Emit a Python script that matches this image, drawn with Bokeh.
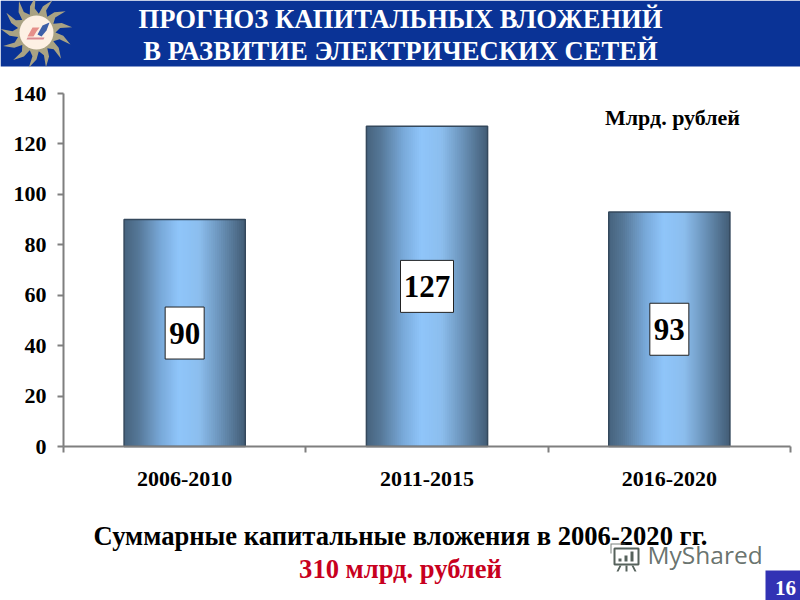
import math
from bokeh.core.properties import value
from bokeh.plotting import figure
from bokeh.models import (BoxAnnotation, ColumnDataSource, FixedTicker, Label, LinearAxis,
                          PolyAnnotation, Range1d)
from bokeh.embed import file_html
from bokeh.resources import INLINE

# ---- data ----
periods = ["2006-2010", "2011-2015", "2016-2020"]
investments = [90, 127, 93]
y_ticks = [0, 20, 40, 60, 80, 100, 120, 140]
title_lines = ["ПРОГНОЗ КАПИТАЛЬНЫХ ВЛОЖЕНИЙ", "В РАЗВИТИЕ ЭЛЕКТРИЧЕСКИХ СЕТЕЙ"]
unit_text = "Млрд. рублей"
summary_text = "Суммарные капитальные вложения в 2006-2020 гг."
total_text = "310 млрд. рублей"
page_number = "16"
watermark = "MyShared"
label_box_widths = [39, 53, 39]

# ---- style ----
SERIF = "Liberation Serif"
BLUE = "#0a3396"
GRAD = [(0.0, (70, 98, 125)), (0.12, (86, 120, 152)), (0.30, (120, 168, 216)),
        (0.45, (143, 197, 250)), (0.62, (140, 190, 238)), (0.80, (105, 145, 183)),
        (1.0, (66, 92, 117))]
BAR_W = 0.5
STRIPS = 60


def ramp(t):
    for (a, ca), (b, cb) in zip(GRAD, GRAD[1:]):
        if t <= b:
            f = (t - a) / (b - a)
            return "#%02x%02x%02x" % tuple(round(u + (v - u) * f) for u, v in zip(ca, cb))
    return "#%02x%02x%02x" % GRAD[-1][1]


W, H = 800, 600
# the plot area fills the page; these ranges put the chart's box at x 63..790, y 93..446
UX = (790 - 63) / len(periods)
UY = (446 - 93) / 140
p = figure(width=W, height=H, output_backend="svg", toolbar_location=None,
           x_range=Range1d(-63 / UX, (W - 63) / UX), y_range=Range1d(-(H - 446) / UY, 446 / UY),
           x_axis_type=None, y_axis_type=None, min_border=0)
p.outline_line_color = None
p.grid.visible = False
p.background_fill_color = "white"
p.border_fill_color = "white"

centers = [i + 0.5 for i in range(len(periods))]

# bars: a horizontal gradient; each strip runs on to the bar's right edge so no seams show
left, right, top, bottom, colors = [], [], [], [], []
for c, v in zip(centers, investments):
    for k in range(STRIPS):
        left.append(c - BAR_W / 2 + BAR_W * k / STRIPS)
        right.append(c + BAR_W / 2)
        top.append(v)
        bottom.append(0)
        colors.append(ramp((k + 0.5) / STRIPS))
p.quad(left="left", right="right", top="top", bottom="bottom", fill_color="colors",
       line_color=None,
       source=ColumnDataSource(dict(left=left, right=right, top=top, bottom=bottom, colors=colors)))
p.vbar(x=centers, top=investments, width=BAR_W, bottom=0, fill_color=None,
       line_color="#34485c", line_width=1.5)

# value labels
mids = [v / 2 for v in investments]
p.rect(x=centers, y=mids, width=label_box_widths, height=[52] * 3, width_units="screen",
       height_units="screen", fill_color="white", line_color="#222222", line_width=1)
p.text(x=centers, y=mids, text=[str(v) for v in investments], text_align="center",
       text_baseline="middle", text_font=value(SERIF), text_font_style="bold", text_font_size="31px",
       text_color="black")

# axes
yax = LinearAxis(fixed_location=0, bounds=(0, 140), ticker=FixedTicker(ticks=y_ticks))
yax.axis_line_color = "#7f7f7f"
yax.axis_line_width = 2
yax.major_tick_line_color = "#7f7f7f"
yax.major_tick_line_width = 2
yax.major_tick_out = 6
yax.major_tick_in = 0
yax.minor_tick_line_color = None
yax.major_label_standoff = 11
yax.major_label_text_font = SERIF
yax.major_label_text_font_style = "bold"
yax.major_label_text_font_size = "22px"
yax.major_label_text_color = "black"
p.add_layout(yax, "left")

xax = LinearAxis(fixed_location=0, bounds=(0, len(periods)),
                 ticker=FixedTicker(ticks=centers, minor_ticks=list(range(len(periods) + 1))))
xax.major_label_overrides = {c: n for c, n in zip(centers, periods)}
xax.axis_line_color = "#7f7f7f"
xax.axis_line_width = 2
xax.major_tick_line_color = None
xax.minor_tick_line_color = "#7f7f7f"
xax.minor_tick_line_width = 2
xax.minor_tick_out = 6
xax.minor_tick_in = 0
xax.major_label_standoff = 19
xax.major_label_text_font = SERIF
xax.major_label_text_font_style = "bold"
xax.major_label_text_font_size = "22px"
xax.major_label_text_color = "black"
p.add_layout(xax, "below")


def text(x, y, s, size, color="black", font=SERIF, style="bold", align="center", alpha=1.0):
    p.add_layout(Label(x=x, y=y, x_units="canvas", y_units="canvas", text=s,
                       text_font=font, text_font_style=style, text_font_size=size,
                       text_color=color, text_align=align, text_baseline="middle",
                       text_alpha=alpha))


def poly(pts, color, alpha=1.0, line=None, lw=1):
    p.add_layout(PolyAnnotation(xs=[a for a, _ in pts], ys=[b for _, b in pts],
                                xs_units="canvas", ys_units="canvas", fill_color=color,
                                fill_alpha=alpha, line_color=line, line_width=lw, line_alpha=1,
                                level="annotation", editable=False))


def box(l, r, t, b, color):
    p.add_layout(BoxAnnotation(left=l, right=r, top=t, bottom=b, left_units="canvas",
                               right_units="canvas", top_units="canvas", bottom_units="canvas",
                               fill_color=color, fill_alpha=1, line_color=None, level="underlay"))


# header
box(0, W, 0, 66, BLUE)
text(400, 18, title_lines[0], "26.6px", "white")
text(400, 50, title_lines[1], "26.6px", "white")

# logo: swirling sun, round disc and small emblem
LX, LY = 36, 32
rays = []
N_RAYS = 13
for i in range(N_RAYS):
    a = 2 * math.pi * i / N_RAYS
    step = 2 * math.pi / N_RAYS
    rays.append((LX + 19 * math.cos(a), LY + 19 * math.sin(a)))
    rays.append((LX + 27 * math.cos(a + step * 0.25), LY + 27 * math.sin(a + step * 0.25)))
    rays.append((LX + 36 * math.cos(a + step * 0.7), LY + 36 * math.sin(a + step * 0.7)))
    rays.append((LX + 24 * math.cos(a + step * 0.6), LY + 24 * math.sin(a + step * 0.6)))
poly(rays, "#a9a283")
poly([(LX + 17 * math.cos(t / 18 * math.pi), LY + 17 * math.sin(t / 18 * math.pi))
      for t in range(36)], "#fdf0e4")
poly([(27, 36), (32, 27), (39, 27), (36, 31), (33, 36)], "#e58f8a")
poly([(37, 34), (42, 25), (49, 22), (46, 30), (41, 36)], "#3d5fa8")
poly([(27, 37), (44, 37), (43, 39), (26, 39)], "#d98a90")

# notes
text(672, 117, unit_text, "22px")
text(400, 535, summary_text, "26.6px")
text(400, 568, total_text, "26.6px", "#c8001e")

# page number box
box(765, W, 570, H, "#3232b4")
text(785, 587, page_number, "21px", "white")

# watermark
INK = "#56625c"
text(647, 554, watermark, "24.5px", INK, font="Open Sans", style="normal", align="left", alpha=0.9)
poly([(614, 548), (638, 548), (638, 564), (614, 564)], "white", 0.0, INK, 2)
poly([(610, 543), (625, 543), (625, 544), (611, 544), (611, 553), (610, 553)], INK, 0.8)
poly([(618, 558), (621, 558), (621, 561), (618, 561)], INK)
poly([(624, 555), (627, 555), (627, 561), (624, 561)], INK)
poly([(630, 551), (633, 551), (633, 561), (630, 561)], INK)
poly([(619, 565), (621, 565), (618, 571), (616, 571)], INK)
poly([(625, 565), (627, 565), (627, 571), (625, 571)], INK)
poly([(631, 565), (633, 565), (636, 571), (634, 571)], INK)

open("out.html", "w").write(file_html(p, INLINE))
